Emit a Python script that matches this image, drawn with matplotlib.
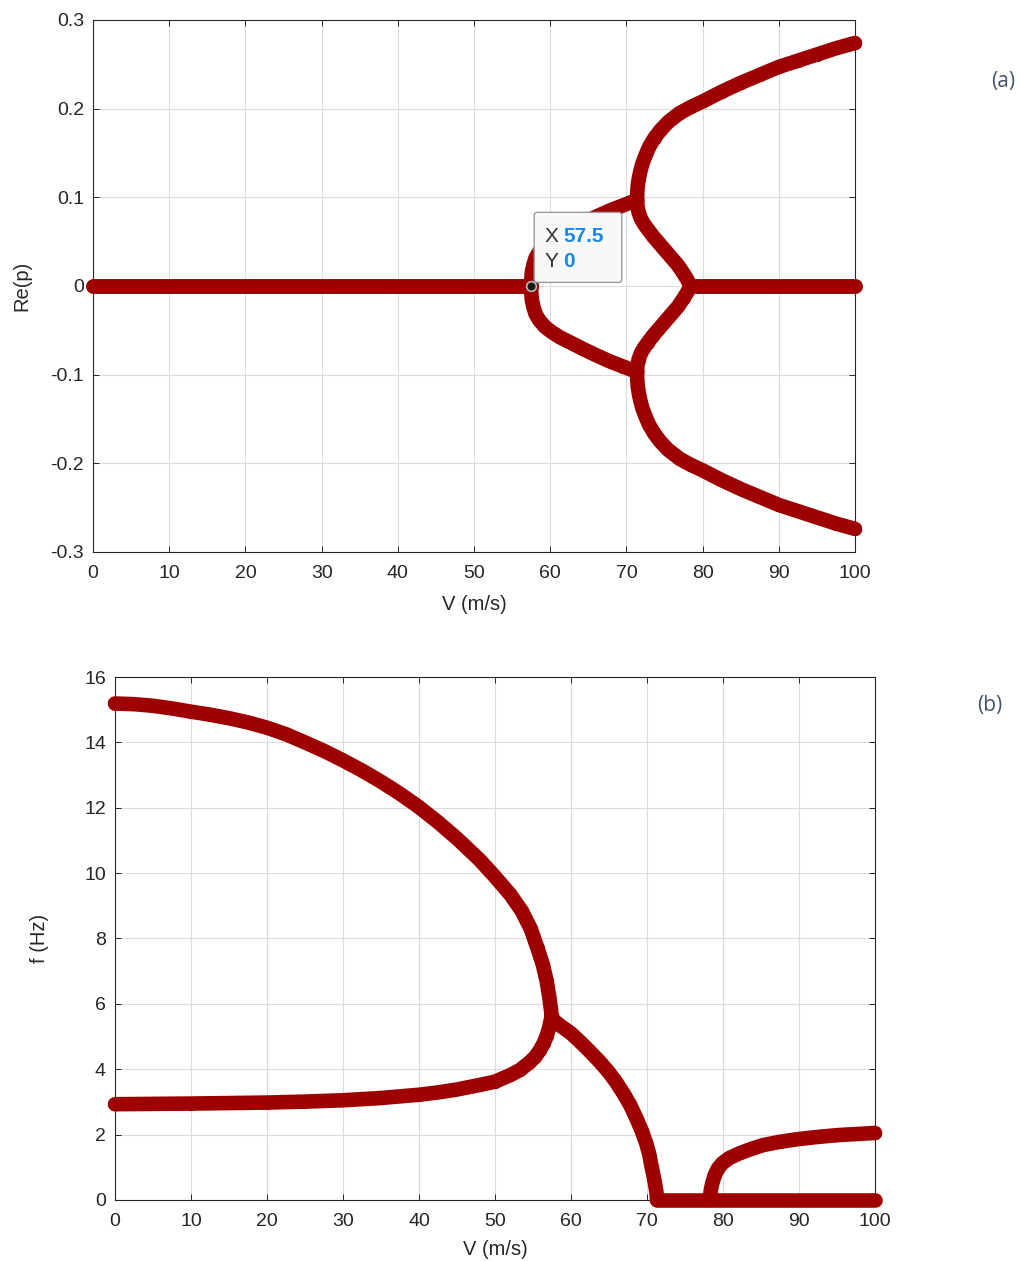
import matplotlib
matplotlib.use('Agg')
import matplotlib.pyplot as plt
from matplotlib.patches import FancyBboxPatch

plt.rcParams['font.family'] = ['Liberation Sans', 'DejaVu Sans']
plt.rcParams['axes.unicode_minus'] = False

v_zero_a = [0, 57.5]
re_zero_a = [0, 0]
v_zero_b = [78.4, 100]
re_zero_b = [0, 0]
v_flut = [57.5, 57.52, 57.6, 57.8, 58.1, 58.6, 59.3, 60.2, 61.3, 62.7, 64.3, 66.0, 67.8, 69.6, 71.4]
re_flut = [0, 0.008, 0.016, 0.024, 0.032, 0.039, 0.046, 0.052, 0.058, 0.064, 0.071, 0.078, 0.085, 0.091, 0.097]
v_outer = [71.4, 71.42, 71.5, 71.65, 71.85, 72.1, 72.5, 73.0, 73.7, 74.5, 75.5, 77.0, 78.5,
           80, 82.5, 85, 87.5, 90, 92.5, 95, 97.5, 100]
re_outer = [0.097, 0.105, 0.114, 0.122, 0.130, 0.138, 0.147, 0.157, 0.167, 0.176, 0.185, 0.195, 0.202,
            0.208, 0.219, 0.229, 0.238, 0.247, 0.254, 0.261, 0.268, 0.274]
v_inner = [71.4, 71.45, 71.6, 71.9, 72.3, 72.8, 73.5, 74.3, 75.1, 76.0, 76.8, 77.5, 78.0, 78.4]
re_inner = [0.097, 0.090, 0.083, 0.076, 0.070, 0.064, 0.056, 0.048, 0.040, 0.031, 0.023, 0.014, 0.007, 0.0]

# (b) frequency
v_up = [0, 2.5, 5, 7.5, 10, 12.5, 15, 17.5, 20, 22.5, 25, 27.5, 30, 32.5, 35, 37.5, 40, 42.5, 45,
        48, 50, 52, 53.5, 54.7, 55.6, 56.3, 56.8, 57.15, 57.35, 57.45]
f_up = [15.19, 15.17, 15.12, 15.04, 14.94, 14.85, 14.74, 14.61, 14.45, 14.25, 14.0, 13.74, 13.45,
        13.14, 12.8, 12.43, 12.02, 11.56, 11.06, 10.4, 9.89, 9.35, 8.85, 8.3, 7.7, 7.2, 6.7, 6.2, 5.85, 5.62]
v_low = [0, 10, 20, 25, 30, 35, 40, 42.5, 45, 48, 50, 52, 53.3, 54.5, 55.3, 55.9, 56.4, 56.8, 57.1, 57.3, 57.45]
f_low = [2.93, 2.95, 2.98, 3.01, 3.05, 3.12, 3.22, 3.29, 3.38, 3.52, 3.62, 3.82, 3.98, 4.2, 4.38,
         4.58, 4.79, 5.02, 5.25, 5.45, 5.62]
v_merge = [57.45, 57.7, 58.5, 60, 61.2, 62.5, 63.7, 64.9, 65.9, 66.9, 67.8, 68.6, 69.3, 69.9,
           70.3, 70.6, 70.85, 71.05, 71.2, 71.3, 71.3]
f_merge = [5.62, 5.5, 5.35, 5.10, 4.84, 4.54, 4.25, 3.93, 3.62, 3.26, 2.9, 2.50, 2.12, 1.73,
           1.4, 1.02, 0.75, 0.51, 0.3, 0.12, 0]
v_fzero = [71.3, 100]
f_fzero = [0, 0]
v_right = [78.3, 78.32, 78.4, 78.6, 78.9, 79.3, 79.9, 80.8, 82.2, 83.7, 85.3, 87.5, 89.8, 92.5, 95.4, 100]
f_right = [0, 0.15, 0.31, 0.52, 0.76, 0.95, 1.12, 1.28, 1.43, 1.56, 1.68, 1.78, 1.86, 1.93, 1.99, 2.05]

red = '#9E0000'
txt = '#262626'
LW = 10.5


def branch(ax, x, y):
    ax.plot(x, y, color=red, lw=LW, solid_capstyle='round', solid_joinstyle='round',
            marker='o', ms=LW - 2, mfc='none', mec=red, mew=1, clip_on=False, zorder=5)


def style(ax):
    ax.set_xlim(0, 100)
    ax.set_xticks(range(0, 101, 10))
    ax.grid(True, color='#DCDCDC', lw=0.8)
    ax.set_axisbelow(True)
    ax.tick_params(direction='in', length=4, width=0.7, top=True, right=True,
                   labelsize=14, colors=txt)
    ax.tick_params(axis='x', pad=9.5)
    ax.tick_params(axis='y', pad=6.5)
    for s in ax.spines.values():
        s.set_color(txt)
        s.set_linewidth(0.8)


fig = plt.figure(figsize=(10.21, 12.61), dpi=100)

ax1 = fig.add_axes([0.0911, 0.5623, 0.7463, 0.4219])
for x, y in [(v_zero_a, re_zero_a), (v_zero_b, re_zero_b), (v_flut, re_flut),
             (v_outer, re_outer), (v_inner, re_inner)]:
    branch(ax1, x, y)
    branch(ax1, x, [-r for r in y])
style(ax1)
ax1.set_ylim(-0.3, 0.3)
ax1.set_yticks([-0.3, -0.2, -0.1, 0, 0.1, 0.2, 0.3])
ax1.set_yticklabels(['-0.3', '-0.2', '-0.1', '0', '0.1', '0.2', '0.3'])
ax1.set_xlabel('V (m/s)', fontsize=14.5, color=txt, va='center')
ax1.set_ylabel('Re(p)', fontsize=14.5, color=txt, va='center')
ax1.xaxis.set_label_coords(0.5, -0.0996)
ax1.yaxis.set_label_coords(-0.0932, 0.5)

# data tip
ax1.plot([57.5], [0], 'o', ms=7, mfc='#1a1a1a', mec='#bbbbbb', mew=1.2, zorder=7, clip_on=False)
box = FancyBboxPatch((57.9, 0.004), 11.5, 0.079,
                     boxstyle='round,pad=0,rounding_size=0.4', mutation_aspect=0.0086,
                     fc='#F7F8FA', ec='#9A9A9A', lw=1, zorder=8)
ax1.add_patch(box)
ax1.text(59.3, 0.056, 'X', fontsize=15, color='#333333', va='center', zorder=9)
ax1.text(61.7, 0.056, '57.5', fontsize=15, color='#1A88E6', fontweight='bold', va='center', zorder=9)
ax1.text(59.3, 0.027, 'Y', fontsize=15, color='#333333', va='center', zorder=9)
ax1.text(61.7, 0.027, '0', fontsize=15, color='#1A88E6', fontweight='bold', va='center', zorder=9)

ax2 = fig.add_axes([0.1126, 0.0484, 0.7444, 0.4147])
for x, y in [(v_up, f_up), (v_low, f_low), (v_merge, f_merge),
             (v_fzero, f_fzero), (v_right, f_right)]:
    branch(ax2, x, y)
style(ax2)
ax2.set_ylim(0, 16)
ax2.set_yticks(range(0, 17, 2))
ax2.set_xlabel('V (m/s)', fontsize=14.5, color=txt, va='center')
ax2.set_ylabel('f (Hz)', fontsize=14.5, color=txt, va='center')
ax2.xaxis.set_label_coords(0.5, -0.0956)
ax2.yaxis.set_label_coords(-0.0987, 0.5)

fig.text(1003 / 1021, 1 - 82 / 1261, '(a)', fontsize=15, color='#44546A',
         ha='center', va='center', family=['Open Sans', 'DejaVu Sans'])
fig.text(990 / 1021, 1 - 705 / 1261, '(b)', fontsize=15, color='#44546A',
         ha='center', va='center', family=['Open Sans', 'DejaVu Sans'])

fig.savefig('out.png', dpi=100)
